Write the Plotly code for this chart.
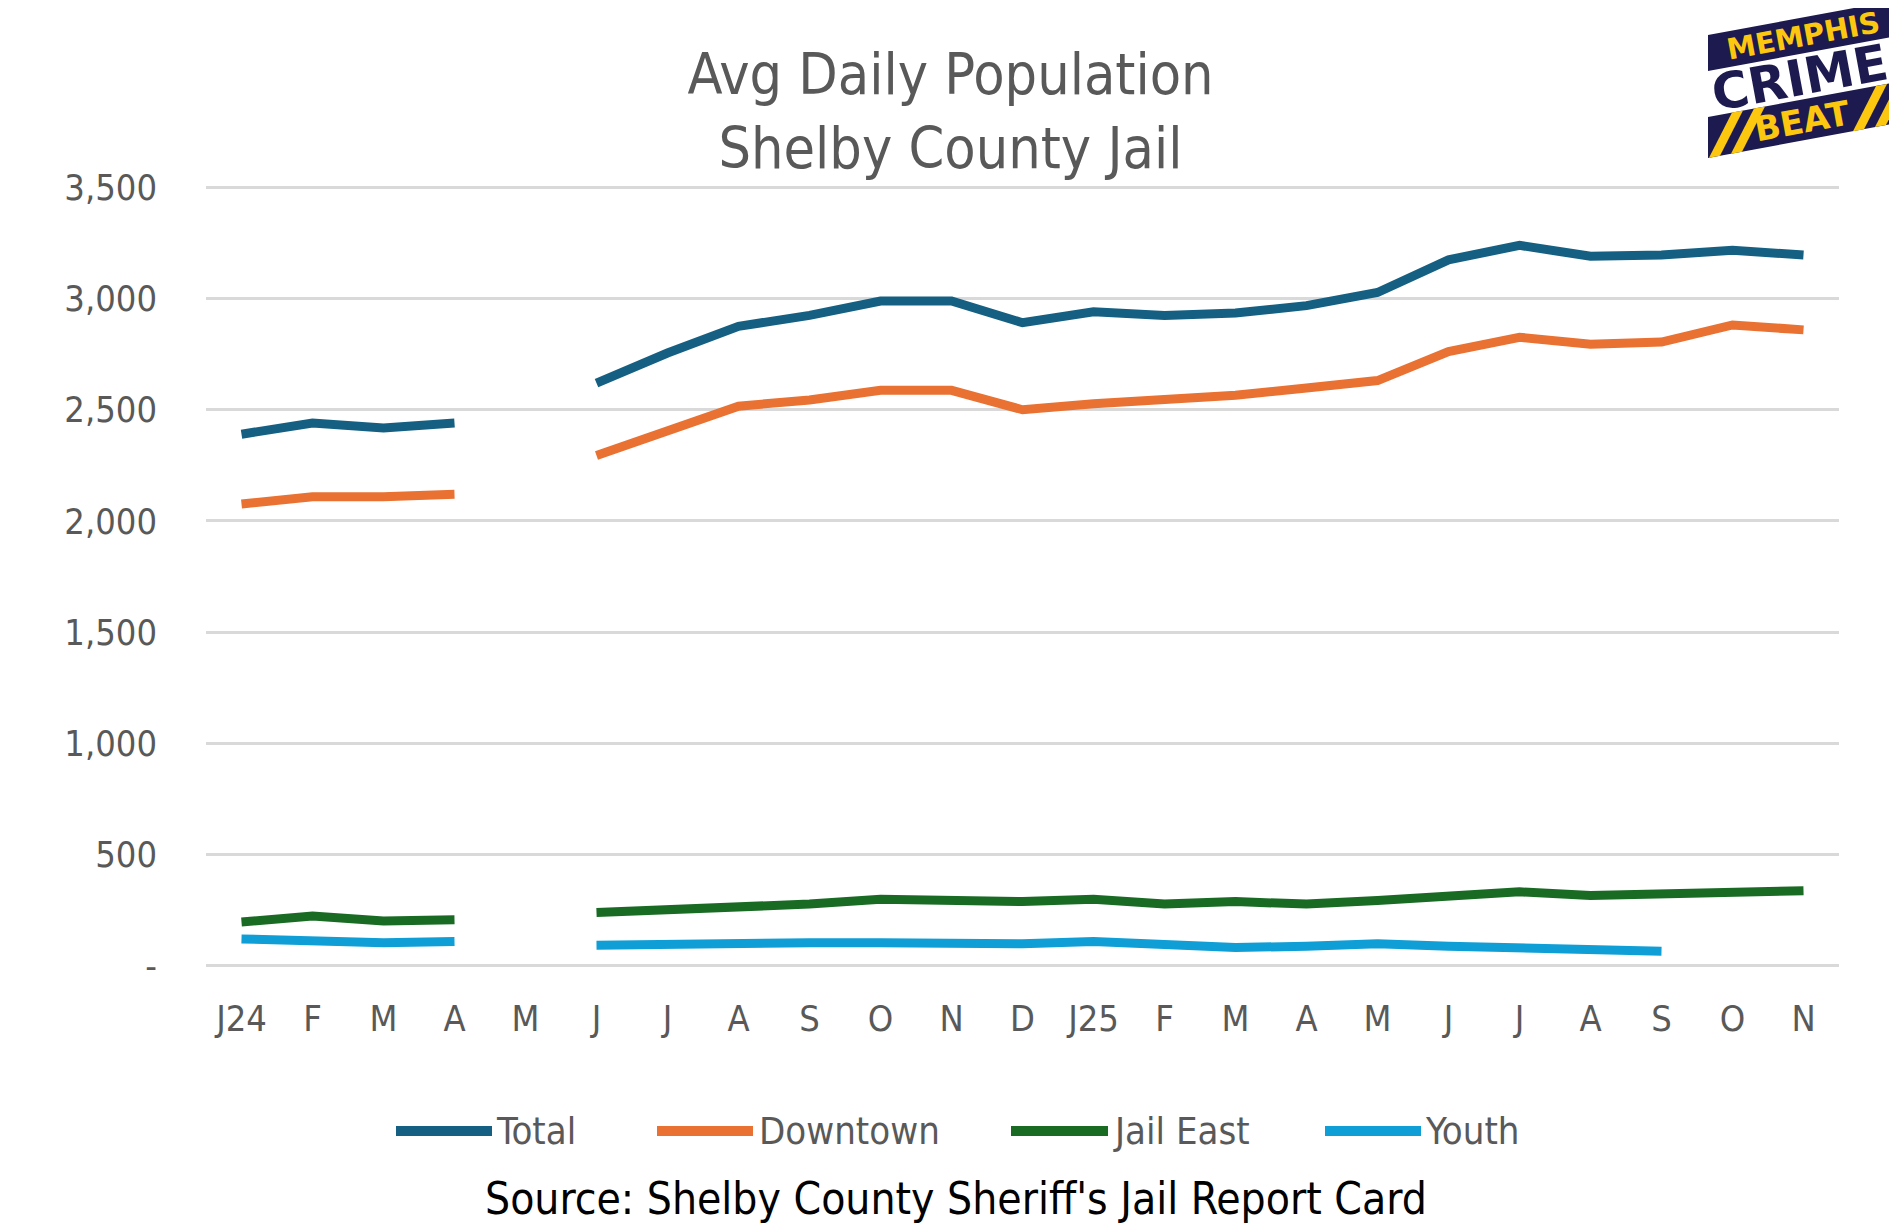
import plotly.graph_objects as go

# ---------------- data ----------------
months = ["J24", "F", "M", "A", "M", "J", "J", "A", "S", "O", "N", "D",
          "J25", "F", "M", "A", "M", "J", "J", "A", "S", "O", "N"]

total = [2390, 2440, 2418, 2440, None, 2620, 2755, 2875, 2924, 2989, 2989, 2891,
         2940, 2924, 2935, 2968, 3027, 3174, 3239, 3190, 3196, 3217, 3196]
downtown = [2076, 2109, 2109, 2120, None, 2294, 2408, 2516, 2544, 2587, 2587, 2500,
            2527, 2549, 2565, 2598, 2631, 2761, 2826, 2794, 2804, 2881, 2859]
jail_east = [196, 223, 201, 207, None, 239, 250, 266, 277, 299, 293, 288,
             299, 277, 288, 277, 293, 315, 332, 315, 321, 337, 337]
youth = [120, 114, 103, 109, None, 92, 98, 98, 103, 103, 103, 98,
         109, 92, 82, 87, 98, 87, 82, 76, 65, None, None]

series_names = ["Total", "Downtown", "Jail East", "Youth"]
series_colors = ["#156082", "#E97132", "#196B24", "#0F9ED5"]

y_tickvals = [0, 500, 1000, 1500, 2000, 2500, 3000, 3500]
y_ticktext = ["-", "500", "1,000", "1,500", "2,000", "2,500", "3,000", "3,500"]

# ---------------- layout geometry ----------------
W, H = 1897, 1231
ML, MR, MT, MB = 198, 66, 176, 270
PW, PH = W - ML - MR, H - MT - MB
DX, DY = -8, -7   # global shift for free-positioned items

NARROW = "Liberation Sans Narrow, Arial Narrow, DejaVu Sans Condensed, sans-serif"
GREY = "#595959"


def px(x):
    return (x + DX - ML) / PW


def py(y):
    return (H - MB - (y + DY)) / PH


fig = go.Figure()
xs = list(range(len(months)))
for name, vals, col in zip(series_names, [total, downtown, jail_east, youth], series_colors):
    fig.add_trace(go.Scatter(x=xs, y=vals, mode="lines", name=name,
                             line=dict(color=col, width=9), showlegend=False,
                             connectgaps=False))

shapes = []
annotations = []

# custom legend
leg_y = 1130
leg_items = [(396, 492, 494), (657, 753, 757), (1011, 1108, 1111), (1325, 1421, 1423)]
for (x0, x1, tx), name, col in zip(leg_items, series_names, series_colors):
    shapes.append(dict(type="line", xref="paper", yref="paper",
                       x0=px(x0), x1=px(x1), y0=py(leg_y), y1=py(leg_y),
                       line=dict(color=col, width=10)))
    annotations.append(dict(xref="paper", yref="paper", x=px(tx), y=py(leg_y),
                            text=name, showarrow=False, xanchor="left", yanchor="middle",
                            font=dict(family=NARROW, size=38, color=GREY)))

# source
annotations.append(dict(xref="paper", yref="paper", x=px(956), y=py(1197),
                        text="Source: Shelby County Sheriff's Jail Report Card",
                        showarrow=False, xanchor="center", yanchor="middle",
                        font=dict(family=NARROW, size=44, color="#000000")))

# ---------------- logo ----------------
NAVY = "#1C1A4F"
YEL = "#FCC70F"
S = -0.185
LX, RX = 1708, 1920


def band(top_left, height):
    tl = top_left
    tr = top_left + S * (RX - LX)
    return [(LX, tl), (RX, tr), (RX, tr + height), (LX, tl + height)]


def path(pts):
    return "M " + " L ".join(f"{px(a):.5f},{py(b):.5f}" for a, b in pts) + " Z"


top_band = band(34, 36)
bot_band = band(116, 41)
for b in (top_band, bot_band):
    shapes.append(dict(type="path", xref="paper", yref="paper", path=path(b),
                       fillcolor=NAVY, line=dict(width=0), layer="above"))


def yt(x):
    return 116 + S * (x - LX)


def yb(x):
    return 157 + S * (x - LX)


for bx in (1709, 1731, 1853, 1875):
    w, dx = 11, 23
    pts = [(bx, yb(bx)), (bx + w, yb(bx + w)), (bx + w + dx, yt(bx + w + dx)), (bx + dx, yt(bx + dx))]
    shapes.append(dict(type="path", xref="paper", yref="paper", path=path(pts),
                       fillcolor=YEL, line=dict(width=0), layer="above"))

ang = -10.5
annotations.append(dict(xref="paper", yref="paper", x=px(1803), y=py(35), text="<b>MEMPHIS</b>",
                        showarrow=False, textangle=ang, xanchor="center", yanchor="middle",
                        font=dict(family="DejaVu Sans", size=29, color=YEL)))
annotations.append(dict(xref="paper", yref="paper", x=px(1800), y=py(77), text="<b>CRIME</b>",
                        showarrow=False, textangle=ang, xanchor="center", yanchor="middle",
                        font=dict(family="DejaVu Sans", size=50, color=NAVY)))
annotations.append(dict(xref="paper", yref="paper", x=px(1802), y=py(120), text="<b>BEAT</b>",
                        showarrow=False, textangle=ang, xanchor="center", yanchor="middle",
                        font=dict(family="DejaVu Sans", size=34, color=YEL)))

fig.update_layout(
    width=W, height=H,
    margin=dict(l=ML, r=MR, t=MT, b=MB),
    paper_bgcolor="white", plot_bgcolor="white",
    title=dict(text="Avg Daily Population<br>Shelby County Jail",
               xref="container", x=0.5 - 6 / W, xanchor="center",
               yref="container", y=1 - 86 / H, yanchor="top",
               font=dict(family=NARROW, size=57, color=GREY)),
    shapes=shapes, annotations=annotations,
    xaxis=dict(range=[-0.5, len(months) - 0.5], tickvals=xs, ticktext=months,
               showgrid=False, zeroline=False, showline=False, ticks="",
               ticklabelstandoff=25,
               tickfont=dict(family=NARROW, size=36, color=GREY)),
    yaxis=dict(range=[-15, 3515], tickvals=y_tickvals, ticktext=y_ticktext,
               showgrid=True, gridcolor="#D9D9D9", gridwidth=2.5,
               zeroline=False, showline=False, ticks="",
               ticklabelstandoff=48,
               tickfont=dict(family=NARROW, size=36, color=GREY)),
)

fig.write_html("out.html")
